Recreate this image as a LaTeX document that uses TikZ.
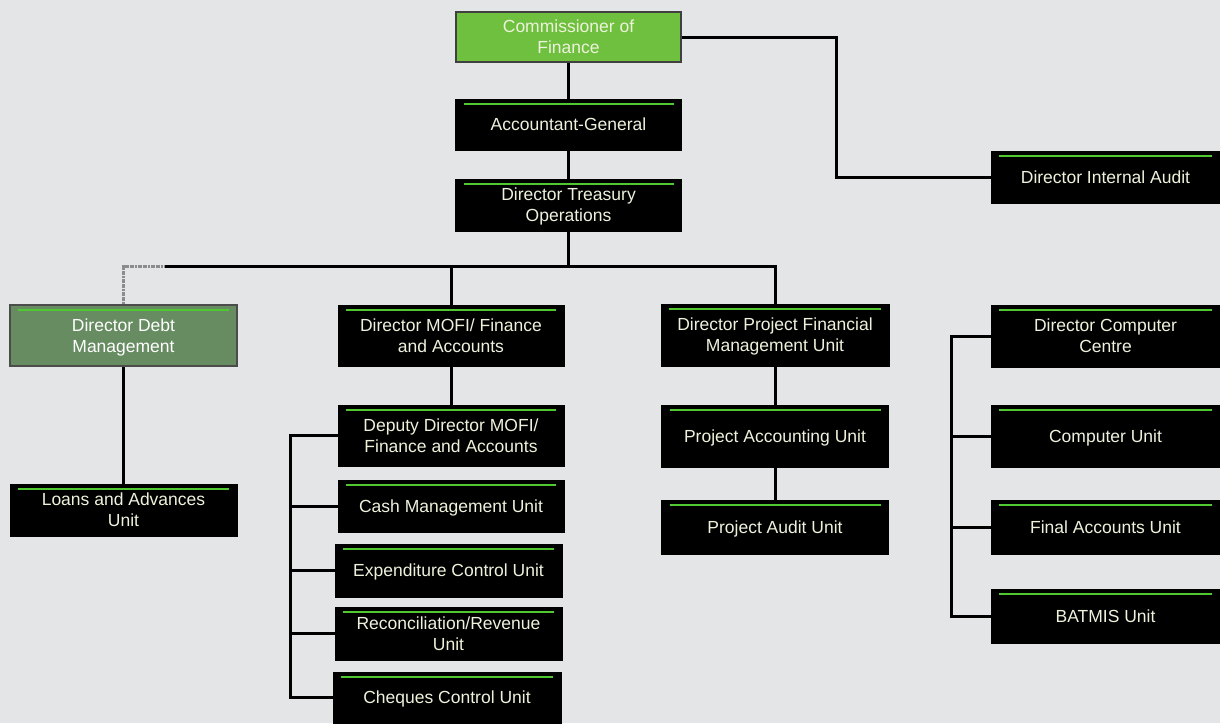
\documentclass[tikz,border=0pt]{standalone}
\usepackage{fontspec}
\setmainfont{Liberation Sans}
\usetikzlibrary{calc}
\definecolor{pagebg}{RGB}{228,229,231}
\definecolor{boxtext}{RGB}{238,242,220}
\definecolor{stripe}{RGB}{80,200,50}
\definecolor{topgreen}{RGB}{110,192,62}
\definecolor{debtgreen}{RGB}{104,140,98}
\tikzset{
  unit/.style={rectangle, fill=black, draw=black, line width=1pt,
    text=boxtext, align=center, inner sep=2pt,
    font=\fontsize{17.5}{21}\selectfont, text depth=-2pt,
    path picture={\draw[stripe, line width=2.4pt]
      ([xshift=8pt,yshift=-5pt]path picture bounding box.north west) --
      ([xshift=-8pt,yshift=-5pt]path picture bounding box.north east);}},
  headbox/.style={unit, fill=topgreen, draw=black!75, line width=2pt,
    path picture={}},
  debtbox/.style={unit, fill=debtgreen, draw=black!70, line width=2pt,
    text=white},
  link/.style={draw=black, line width=3pt},
  fadedlink/.style={draw=black!45, line width=3pt, dash pattern=on 2pt off 0.6pt},
}
\begin{document}
\begin{tikzpicture}[x=1pt,y=-1pt]
\useasboundingbox[fill=pagebg] (0,0) rectangle (1220,723);

% top of the hierarchy
\node[headbox, minimum width=225pt, minimum height=50pt] (comm) at (568.5,37) {Commissioner of\\Finance};
\node[unit, minimum width=226pt, minimum height=51pt] (ag) at (568.5,124.5) {Accountant-General};
\node[unit, minimum width=226pt, minimum height=52pt] (dto) at (568.5,205) {Director Treasury\\Operations};
\node[unit, minimum width=229pt, minimum height=52pt] (ia) at (1105.5,177) {Director Internal Audit};

% directors
\node[debtbox, minimum width=227pt, minimum height=61pt] (debt) at (123.5,335.5) {Director Debt\\Management};
\node[unit, minimum width=226pt, minimum height=61pt] (mofi) at (451,335.5) {Director MOFI/ Finance\\and Accounts};
\node[unit, minimum width=228pt, minimum height=62pt] (pfmu) at (775,335) {Director Project Financial\\Management Unit};
\node[unit, minimum width=229pt, minimum height=62pt] (dcc) at (1105.5,336) {Director Computer\\Centre};

% debt management
\node[unit, minimum width=227pt, minimum height=52pt] (loans) at (123.5,510) {Loans and Advances\\Unit};

% finance and accounts
\node[unit, minimum width=226pt, minimum height=61pt] (dep) at (451,435.5) {Deputy Director MOFI/\\Finance and Accounts};
\node[unit, minimum width=226pt, minimum height=52pt] (cash) at (451,506) {Cash Management Unit};
\node[unit, minimum width=227pt, minimum height=53pt] (exp) at (448.5,570.5) {Expenditure Control Unit};
\node[unit, minimum width=227pt, minimum height=53pt] (rec) at (448.5,633.5) {Reconciliation/Revenue\\Unit};
\node[unit, minimum width=228pt, minimum height=51pt] (chq) at (447,697.5) {Cheques Control Unit};

% project financial management
\node[unit, minimum width=227pt, minimum height=62pt] (pau) at (775,436) {Project Accounting Unit};
\node[unit, minimum width=227pt, minimum height=54pt] (pad) at (775,527) {Project Audit Unit};

% computer centre
\node[unit, minimum width=229pt, minimum height=62pt] (cu) at (1105.5,436) {Computer Unit};
\node[unit, minimum width=229pt, minimum height=54pt] (fa) at (1105.5,527) {Final Accounts Unit};
\node[unit, minimum width=229pt, minimum height=54pt] (bat) at (1105.5,616) {BATMIS Unit};

% junctions
\coordinate (iaj) at (836,37);
\coordinate (bus) at (568.5,266);
\coordinate (busfade) at (165,266);
\coordinate (lbus) at (290,0);
\coordinate (rbus) at (951,0);

% connectors
\draw[link] (comm) -- (ag);
\draw[link] (ag) -- (dto);
\draw[link] (comm.east) -- (iaj) |- (ia.west);
\draw[link] (dto.south) -- (bus);
\draw[link] (busfade) -- (bus) -| (pfmu.north);
\draw[fadedlink] (debt.north) |- (busfade);
\draw[link] (mofi.north) -- (mofi.north |- bus);
\draw[link] (debt) -- (loans);
\draw[link] (mofi) -- (dep);
\draw[link] (pfmu) -- (pau);
\draw[link] (pau) -- (pad);
\draw[link] (dep.west) -- (dep.west -| lbus) |- (chq.west);
\draw[link] (cash.west) -- (cash.west -| lbus);
\draw[link] (exp.west) -- (exp.west -| lbus);
\draw[link] (rec.west) -- (rec.west -| lbus);
\draw[link] (dcc.west) -- (dcc.west -| rbus) |- (bat.west);
\draw[link] (cu.west) -- (cu.west -| rbus);
\draw[link] (fa.west) -- (fa.west -| rbus);
\end{tikzpicture}
\end{document}
